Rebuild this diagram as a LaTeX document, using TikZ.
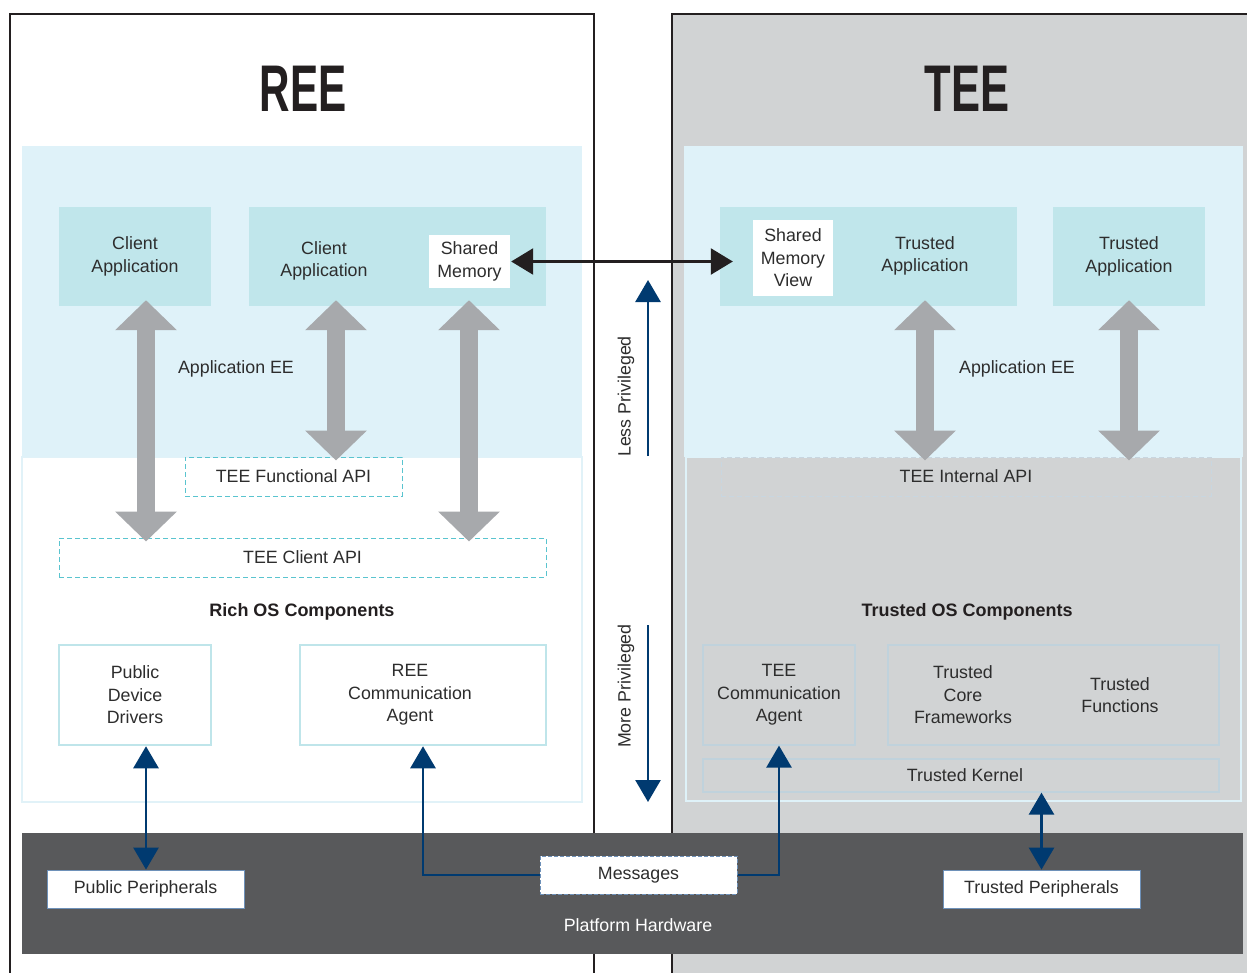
\documentclass[tikz,border=0pt]{standalone}
\usepackage{fontspec}
\setmainfont{Liberation Sans}
\usetikzlibrary{arrows.meta,calc}
\definecolor{ink}{RGB}{35,31,32}
\definecolor{txtc}{RGB}{45,45,45}
\definecolor{palebg}{RGB}{223,242,249}
\definecolor{appteal}{RGB}{192,230,235}
\definecolor{teegray}{RGB}{209,211,212}
\definecolor{hwgray}{RGB}{88,89,91}
\definecolor{arrgray}{RGB}{167,169,172}
\definecolor{navyc}{RGB}{0,58,112}
\definecolor{dashteal}{RGB}{90,196,207}
\definecolor{boxteal}{RGB}{191,229,234}
\definecolor{tborder}{RGB}{192,210,220}
\definecolor{msgdash}{RGB}{110,145,185}
\definecolor{faintdash}{RGB}{200,214,224}
\definecolor{reeborder}{RGB}{225,242,248}
\begin{document}
\begin{tikzpicture}[x=1pt,y=-1pt,
  every node/.style={text=txtc, font=\fontsize{17.8}{22.5}\selectfont, align=center, inner sep=0pt},
  frame/.style={draw=ink, line width=2.5pt},
  appbox/.style={rectangle, fill=appteal},
  whitebox/.style={rectangle, fill=white},
  apibox/.style={rectangle, draw=dashteal, line width=1pt, dash pattern=on 5pt off 3pt},
  reecomp/.style={rectangle, fill=white, draw=boxteal, line width=2.5pt},
  teecomp/.style={rectangle, draw=tborder, line width=1.2pt},
  periph/.style={rectangle, fill=white, draw=msgdash, line width=0.8pt},
  heading/.style={font=\fontsize{18}{22}\selectfont\bfseries, text=ink},
  title/.style={text=ink},
  garrow/.style={draw=arrgray, line width=18pt, {Triangle[length=30pt,width=60pt]}-{Triangle[length=30pt,width=60pt]}},
  barrow/.style={draw=ink, line width=2.5pt, {Triangle[length=22pt,width=26pt]}-{Triangle[length=22pt,width=26pt]}},
  narrow/.style={draw=navyc, line width=2.7pt},
  ntip/.style={-{Triangle[length=22pt,width=25pt]}},
  nboth/.style={{Triangle[length=22pt,width=25pt]}-{Triangle[length=22pt,width=25pt]}}
]
\useasboundingbox (0,0) rectangle (1247,972);
\fill[white] (0,0) rectangle (1247,972);
% frames
\fill[teegray] (672,14) rectangle (1250,975);
\draw[frame] (672,975) -- (672,14) -- (1250,14);
\draw[frame] (10,975) -- (10,14) -- (594,14) -- (594,975);
% REE regions
\filldraw[fill=white, draw=reeborder, line width=1.5pt] (22,457) rectangle (582,802);
\fill[palebg] (22,146) rectangle (582,457);
% TEE regions
\filldraw[fill=teegray, draw=palebg, line width=2.5pt] (686,457) rectangle (1241,801);
\fill[palebg] (684,146) rectangle (1243,457);
% titles
\node[title] (reet) at (303,88.5) {\fontsize{66}{66}\selectfont\bfseries\scalebox{0.64}[1]{REE}};
\node[title] (teet) at (967,88.5) {\fontsize{66}{66}\selectfont\bfseries\scalebox{0.66}[1]{TEE}};
% REE application level
\node[appbox, minimum width=152pt, minimum height=99pt] (ca1) at (135,256.5) {Client\\Application};
\node[appbox, minimum width=297pt, minimum height=99pt] (ca2) at (397.5,256.5) {};
\node (ca2t) at (324,261) {Client\\Application};
\node[whitebox, minimum width=81pt, minimum height=53pt] (sm) at (469.5,261.5) {Shared\\Memory};
\node (aeer) at (236,369) {Application EE};
\node[apibox, minimum width=217pt, minimum height=39pt] (fapi) at (293.5,476.5) {TEE Functional API};
\node[apibox, minimum width=487pt, minimum height=39pt] (capi) at (302.5,557.5) {TEE Client API};
\node[heading] (rosc) at (302,612) {Rich OS Components};
\node[reecomp, minimum width=152pt, minimum height=100pt] (pdd) at (135,695) {Public\\Device\\Drivers};
\node[reecomp, minimum width=246pt, minimum height=100pt] (rca) at (423,695) {};
\node (rcat) at (410,695) {REE\\Communication\\Agent};
% TEE application level
\node[appbox, minimum width=297pt, minimum height=99pt] (ta1) at (868.5,256.5) {};
\node[whitebox, minimum width=80pt, minimum height=76pt] (smv) at (793,258) {Shared\\Memory\\View};
\node (ta1t) at (925,256) {Trusted\\Application};
\node[appbox, minimum width=152pt, minimum height=99pt] (ta2) at (1129,256.5) {Trusted\\Application};
\node (aeet) at (1017,369) {Application EE};
\node[rectangle, draw=faintdash, line width=1pt, dash pattern=on 5pt off 3pt, minimum width=490pt, minimum height=39pt] (iapi) at (966,476.5) {TEE Internal API};
\node[heading] (tosc) at (967,612) {Trusted OS Components};
\node[teecomp, minimum width=152pt, minimum height=100pt] (tca) at (779,695) {TEE\\Communication\\Agent};
\node[teecomp, minimum width=331pt, minimum height=100pt] (tcf) at (1053.5,695) {};
\node (tcft) at (963,695) {Trusted\\Core\\Frameworks};
\node (tft) at (1120,695) {Trusted\\Functions};
\node[teecomp, minimum width=516pt, minimum height=33pt] (tk) at (961,775.5) {};
\node (tkt) at (965,775.5) {Trusted Kernel};
% privilege arrows
\coordinate (lp0) at (648,456);
\coordinate (lp1) at (648,280);
\coordinate (mp0) at (648,625);
\coordinate (mp1) at (648,802);
\draw[narrow, ntip] (lp0) -- (lp1);
\draw[narrow, ntip] (mp0) -- (mp1);
\node[rotate=90] (lpt) at (626,396.5) {Less Privileged};
\node[rotate=90] (mpt) at (626,686) {More Privileged};
% platform hardware
\node[rectangle, fill=hwgray, minimum width=1221pt, minimum height=121pt] (hw) at (632.5,893.5) {};
\node[text=white] (hwt) at (638,925) {Platform Hardware};
\node[periph, minimum width=197pt, minimum height=38pt] (pp) at (145.5,889) {Public Peripherals};
\node[rectangle, fill=white, draw=msgdash, line width=1pt, dash pattern=on 4pt off 2pt, minimum width=197pt, minimum height=38pt] (msg) at (638.5,875) {Messages};
\node[periph, minimum width=197pt, minimum height=38pt] (tp) at (1041.5,889) {Trusted Peripherals};
% gray API arrows
\draw[garrow] ($(ca1.south)+(11,-6)$) -- ($(capi.north)+(-156.5,4)$);
\draw[garrow] ($(ca2.south)+(-61.5,-6)$) -- ($(fapi.north)+(42.5,4)$);
\draw[garrow] ($(ca2.south)+(71.5,-6)$) -- ($(capi.north)+(166.5,4)$);
\draw[garrow] ($(ta1.south)+(56.5,-6)$) -- ($(iapi.north)+(-41,4)$);
\draw[garrow] ($(ta2.south)+(0,-6)$) -- ($(iapi.north)+(163,4)$);
% shared memory arrow
\draw[barrow, shorten >=20pt, shorten <=1pt] (sm.east) -- (sm.east -| smv.west);
% navy arrows
\draw[narrow, nboth] ($(pdd.south)+(11,0)$) -- ($(pp.north)+(0.5,0)$);
\draw[narrow, ntip] (msg.west) -| (rca.south);
\draw[narrow, ntip] (msg.east) -| (tca.south);
\draw[narrow, nboth] (tk.south -| tp.north) -- (tp.north);
\end{tikzpicture}
\end{document}
